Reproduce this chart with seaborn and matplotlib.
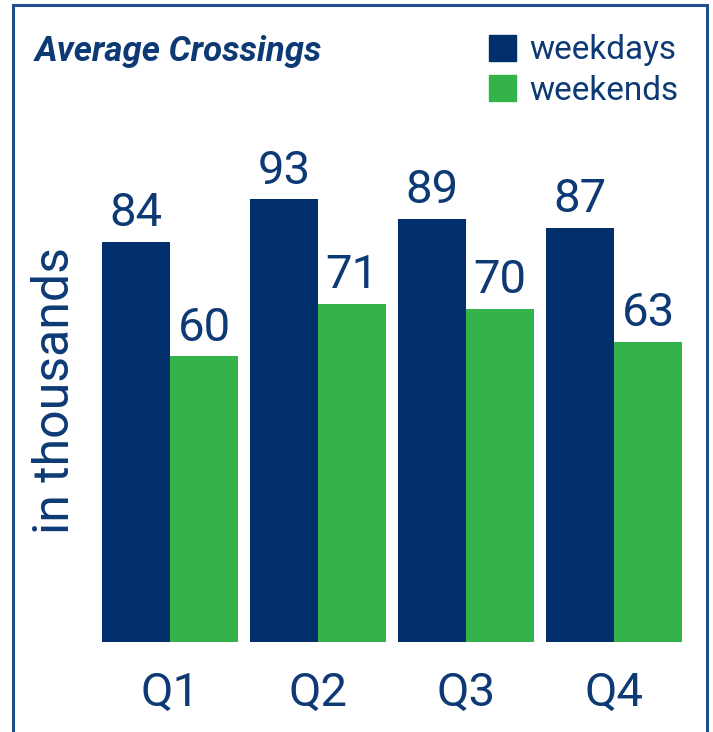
import matplotlib
matplotlib.use("Agg")
import matplotlib.pyplot as plt
import matplotlib.patches as mpatches
import pandas as pd
import seaborn as sns

quarters = ["Q1", "Q2", "Q3", "Q4"]
weekdays = [84, 93, 89, 87]
weekends = [60, 71, 70, 63]
series = ["weekdays", "weekends"]

navy = "#002f6b"
green = "#33b34a"
text_blue = "#0d3a75"
frame_blue = "#1f4e8c"

df = pd.DataFrame({
    "quarter": quarters * 2,
    "value": weekdays + weekends,
    "series": [series[0]] * 4 + [series[1]] * 4,
})

sns.set_theme(style="white")
plt.rcParams['font.family'] = ['Roboto', 'DejaVu Sans']

fig = plt.figure(figsize=(7.13, 7.32), dpi=100)
ax = fig.add_axes([0.1346, 0.123, 0.8304, 0.702])

sns.barplot(data=df, x="quarter", y="value", hue="series", order=quarters,
            hue_order=series, palette=[navy, green], width=0.92,
            saturation=1, linewidth=0, ax=ax, legend=False)

for c in ax.containers:
    ax.bar_label(c, fmt="%d", padding=5, fontsize=34, color=text_blue)

ax.set_xlim(-0.5, 3.5)
ax.set_ylim(0, 108)
ax.set_yticks([])
ax.set_xlabel("")
ax.set_ylabel("in thousands", fontsize=36, color=text_blue)
ax.yaxis.set_label_coords(-0.028, 0.49)
ax.tick_params(axis="x", length=0, pad=21, labelsize=34, labelcolor=text_blue)
for s in ax.spines.values():
    s.set_visible(False)

fig.text(0.049, 0.929, "Average Crossings", fontsize=25, fontweight="bold",
         fontstyle="italic", color=text_blue, va="center", ha="left")

handles = [mpatches.Patch(color=navy, label=series[0]),
           mpatches.Patch(color=green, label=series[1])]
fig.legend(handles=handles, loc="upper left", bbox_to_anchor=(0.686, 0.953),
           frameon=False, fontsize=24, handlelength=0.8, handleheight=0.8,
           handletextpad=0.4, labelspacing=0.25, labelcolor=text_blue,
           borderaxespad=0, borderpad=0)

frame = mpatches.Rectangle((13 / 713, -0.1), (707 - 13) / 713, 1.1 - 5 / 732,
                           transform=fig.transFigure, fill=False,
                           edgecolor=frame_blue, linewidth=2.2)
fig.patches.append(frame)

fig.savefig("out.png", dpi=100)
